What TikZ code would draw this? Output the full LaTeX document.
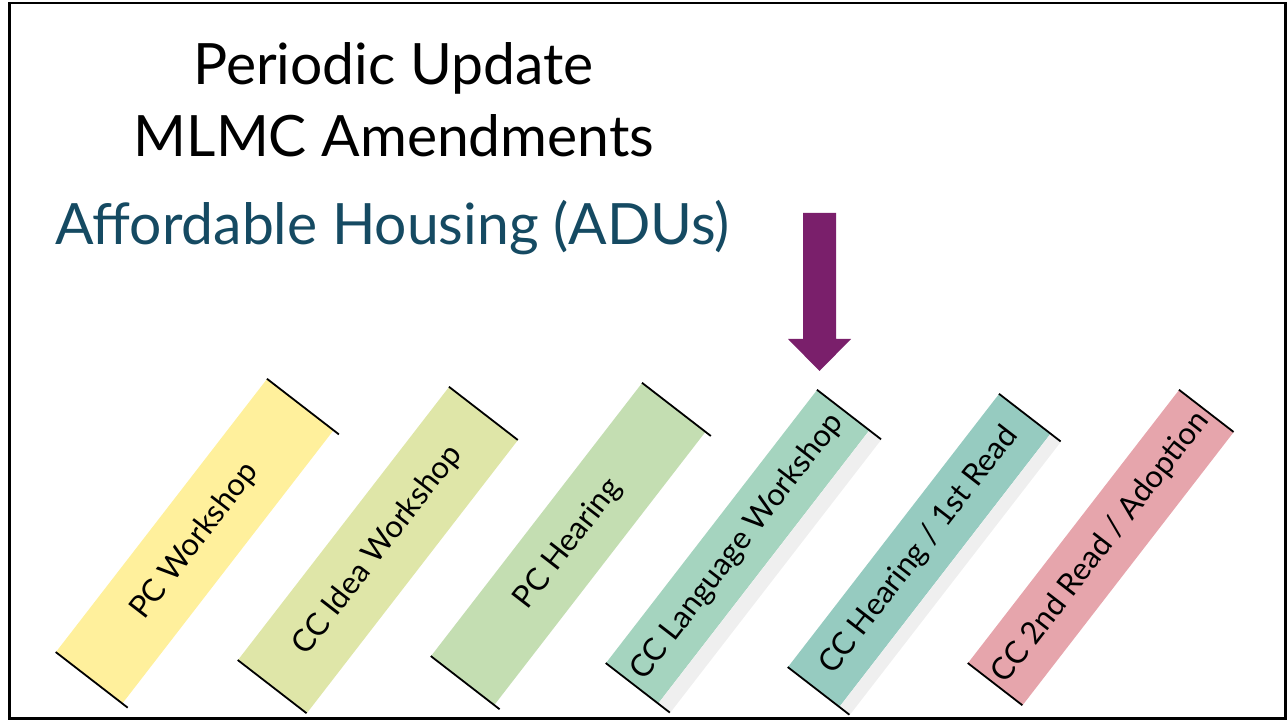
\documentclass[tikz,border=0pt]{standalone}
\usepackage{fontspec}
\setmainfont{Lato}
\usetikzlibrary{calc}
\definecolor{bandA}{HTML}{FFF09C}
\definecolor{bandB}{HTML}{DFE6A8}
\definecolor{bandC}{HTML}{C4DEB2}
\definecolor{bandD}{HTML}{A5D4BF}
\definecolor{bandE}{HTML}{96CBC0}
\definecolor{bandF}{HTML}{E6A5AC}
\definecolor{bandshadow}{HTML}{EFEFEF}
\definecolor{titleteal}{HTML}{154A62}
\definecolor{pointerpurple}{HTML}{7A1F6B}
\tikzset{
	band/.style     = {rotate=52.3, minimum width=345pt, inner sep=0pt,
	                   font=\fontsize{31}{36}\selectfont},
	endcap/.style   = {line width=1.8pt},
	bandshade/.style = {fill=bandshadow},
	title/.style    = {anchor=base, font=\fontsize{57}{66}\selectfont}
}

\begin{document}
\begin{tikzpicture}[x=1pt, y=1pt]
	\useasboundingbox (0,0) rectangle (1288,721);
	\draw[line width=2.5pt] (9.5,2.5) rectangle (1285.5,718);
	% heading
	\node[title] (upd)  at (393.5,636) {Periodic Update};
	\node[title] (mlmc) at (394,564)   {MLMC Amendments};
	\node[title, text=titleteal] (adu) at (392.5,476) {Affordable Housing (ADUs)};
	% steps
	\node[band, fill=bandA, minimum height=84pt] (pcw)     at (194.7,179.8)  {PC Workshop};
	\node[band, fill=bandB, minimum height=87pt] (ccidea)  at (377.9,170.9)  {CC Idea Workshop};
	\node[band, fill=bandC, minimum height=80pt] (pchear)  at (568.2,177.0)  {PC Hearing};
	\node[band, fill=bandD, minimum height=66pt] (cclang)  at (737.6,174.3)  {CC Language Workshop};
	\node[band, fill=bandE, minimum height=65pt] (cchear)  at (919.2,170.6)  {CC Hearing / 1st Read};
	\node[band, fill=bandF, minimum height=69pt] (ccadopt) at (1100.8,173.4) {CC 2nd Read / Adoption};
	\fill[bandshade]
		(cclang.south west) -- (cclang.south east)
		-- ($(cclang.south east)!-15pt!(cclang.north east)$)
		-- ($(cclang.south west)!-15pt!(cclang.north west)$) -- cycle
		(cchear.south west) -- (cchear.south east)
		-- ($(cchear.south east)!-13pt!(cchear.north east)$)
		-- ($(cchear.south west)!-13pt!(cchear.north west)$) -- cycle;
	\draw[endcap]
		(pcw.north west)     -- ($(pcw.north west)!91pt!(pcw.south west)$)
		(pcw.north east)     -- ($(pcw.north east)!91pt!(pcw.south east)$)
		(ccidea.north west)  -- ($(ccidea.north west)!87pt!(ccidea.south west)$)
		(ccidea.north east)  -- ($(ccidea.north east)!87pt!(ccidea.south east)$)
		(pchear.north west)  -- ($(pchear.north west)!87pt!(pchear.south west)$)
		(pchear.north east)  -- ($(pchear.north east)!87pt!(pchear.south east)$)
		(cclang.north west)  -- ($(cclang.north west)!81pt!(cclang.south west)$)
		(cclang.north east)  -- ($(cclang.north east)!81pt!(cclang.south east)$)
		(cchear.north west)  -- ($(cchear.north west)!78pt!(cchear.south west)$)
		(cchear.north east)  -- ($(cchear.north east)!78pt!(cchear.south east)$)
		(ccadopt.north west) -- ($(ccadopt.north west)!69pt!(ccadopt.south west)$)
		(ccadopt.north east) -- ($(ccadopt.north east)!69pt!(ccadopt.south east)$);
	% current step marker
	\fill[pointerpurple] (803,508) -- (836,508) -- (836,382) -- (851,382)
		-- (819.5,350) -- (788,382) -- (803,382) -- cycle;
\end{tikzpicture}
\end{document}
